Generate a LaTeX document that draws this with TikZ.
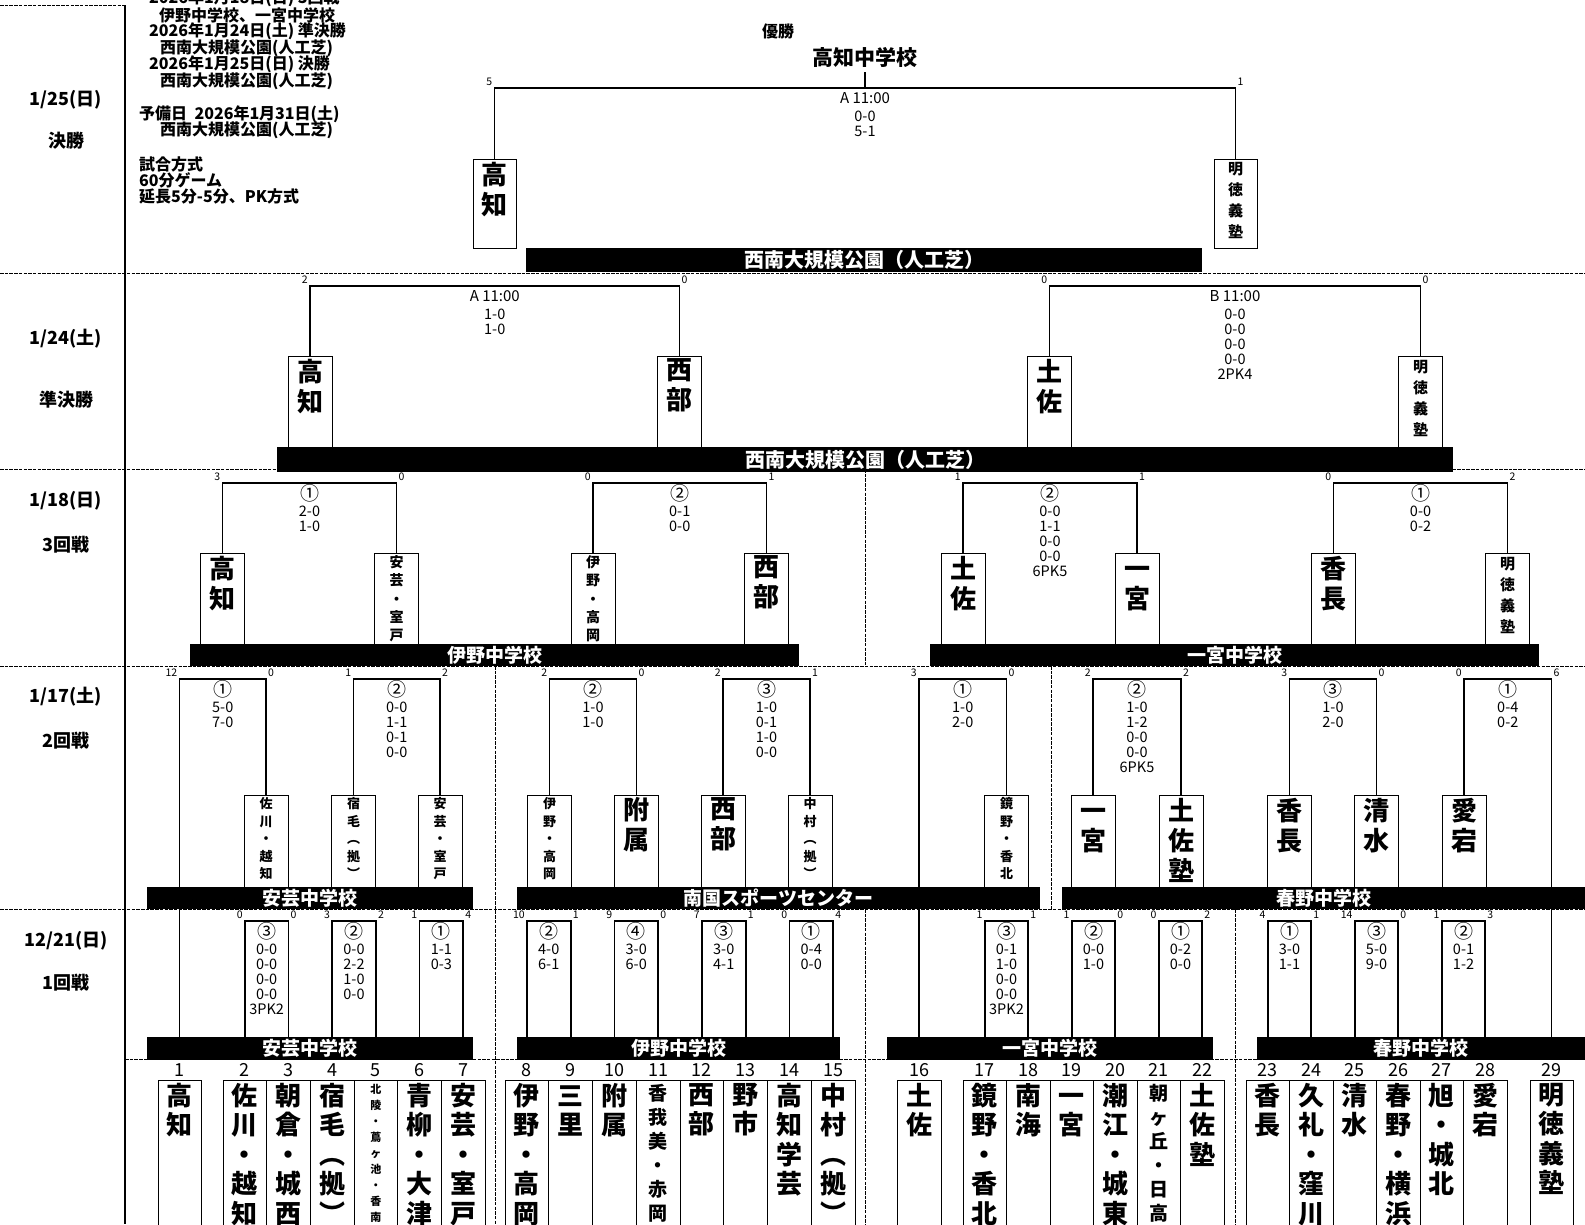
\documentclass[tikz,border=0pt]{standalone}
\usepackage{fontspec}
\setmainfont{Noto Sans CJK JP}
\newcommand\mlab[8]{%
  \node[crsc, anchor=south east] (#1l) at (#2-2,#4-2) {#5};
  \node[crsc, anchor=south west] (#1r) at (#3+2,#4-2) {#6};
  \node[hdtxt] (#1h) at ({(#2+#3)/2},#4+10) {#7};
  \node[sclist] (#1s) at ({(#2+#3)/2},#4+23) {#8};
}
\newcommand\cn[1]{{\fontsize{19}{19}\selectfont #1}}
\newcommand\vs{\vphantom{高}}
\begin{document}
\begin{tikzpicture}[x=1pt,y=-1pt,
 dsh/.style={line width=0.8pt, dash pattern=on 3.5pt off 1.2pt},
 brk/.style={line width=1.8pt},
 tbox/.style={draw, line width=0.8pt, fill=white, inner sep=0pt},
 blk/.style={fill=black, inner sep=0pt, text=white, font=\bfseries\fontsize{19}{19}\selectfont},
 vt/.style={anchor=north, inner sep=0pt, align=center},
 nmBig/.style={vt, font=\bfseries\fontsize{26}{30}\selectfont},
 nmMid/.style={vt, font=\bfseries\fontsize{15}{21}\selectfont},
 nmA/.style={vt, font=\bfseries\fontsize{14}{18.2}\selectfont},
 nmB/.style={vt, font=\bfseries\fontsize{13}{17.5}\selectfont},
 nmBot/.style={vt, font=\bfseries\fontsize{26}{29.5}\selectfont},
 nmBotM/.style={vt, font=\bfseries\fontsize{19}{24}\selectfont},
 nmBotS/.style={vt, font=\bfseries\fontsize{11}{16}\selectfont},
 crsc/.style={inner sep=0pt, font=\fontsize{10.5}{11}\selectfont},
 hdtxt/.style={inner sep=0pt, font=\fontsize{15}{15}\selectfont},
 sclist/.style={anchor=north, inner sep=0pt, align=center, font=\fontsize{14.5}{15}\selectfont},
 hdrtxt/.style={anchor=west, inner sep=0pt, font=\bfseries\fontsize{16}{16}\selectfont},
 lbl/.style={inner sep=0pt, font=\bfseries\fontsize{18}{18}\selectfont},
 numtxt/.style={inner sep=0pt, font=\fontsize{18}{18}\selectfont},
]
\useasboundingbox (0,0) rectangle (1585,1224);
\coordinate (yF) at (0,88);
\coordinate (yS) at (0,286);
\coordinate (y3) at (0,483);
\coordinate (y2) at (0,679);
\coordinate (y1) at (0,921);
\coordinate (yN) at (0,1070);

% separators
\draw[dsh] (0,5) -- (125,5);
\draw[dsh] (0,273) -- (1585,273);
\draw[dsh] (0,469) -- (1585,469);
\draw[dsh] (0,666) -- (1585,666);
\draw[dsh] (0,909) -- (1585,909);
\draw[dsh] (125,1059) -- (1585,1059);
\draw[dsh] (865,469) -- (865,666);
\draw[dsh] (495,666) -- (495,1224);
\draw[dsh] (1051,666) -- (1051,909);
\draw[dsh] (865,909) -- (865,1224);
\draw[dsh] (1235,909) -- (1235,1224);
\draw[line width=1.8pt] (125,5) -- (125,1224);

% left labels
\node[lbl] (d1) at (66,100) {1/25(日)};
\node[lbl] (r1) at (66,141) {決勝};
\node[lbl] (d2) at (66,339) {1/24(土)};
\node[lbl] (r2) at (66,400) {準決勝};
\node[lbl] (d3) at (66,501) {1/18(日)};
\node[lbl] (r3) at (66,545) {3回戦};
\node[lbl] (d4) at (66,697) {1/17(土)};
\node[lbl] (r4) at (66,741) {2回戦};
\node[lbl] (d5) at (66,941) {12/21(日)};
\node[lbl] (r5) at (66,983) {1回戦};

% header
\node[hdrtxt, anchor=base west] (h0) at (149,3) {2026年1月18日(日) 3回戦};
\node[hdrtxt] (h1) at (159,15) {伊野中学校、一宮中学校};
\node[hdrtxt] (h2) at (149,31) {2026年1月24日(土) 準決勝};
\node[hdrtxt] (h3) at (160,48) {西南大規模公園(人工芝)};
\node[hdrtxt] (h4) at (149,64) {2026年1月25日(日) 決勝};
\node[hdrtxt] (h5) at (160,81) {西南大規模公園(人工芝)};
\node[hdrtxt] (h6) at (139,114) {予備日\ \ 2026年1月31日(土)};
\node[hdrtxt] (h7) at (160,130) {西南大規模公園(人工芝)};
\node[hdrtxt] (h8) at (139,164) {試合方式};
\node[hdrtxt] (h9) at (139,180) {60分ゲーム};
\node[hdrtxt] (h10) at (139,196) {延長5分-5分、PK方式};

% champion
\node[inner sep=0pt, font=\bfseries\fontsize{16}{16}\selectfont] (yu) at (778,31) {優勝};
\node[inner sep=0pt, font=\bfseries\fontsize{21}{21}\selectfont] (champ) at (865,57) {高知中学校};

% ---------- boxes: final
\node[tbox, minimum width=43pt, minimum height=89pt] (fA) at (494.5,203.5) {};
\node[tbox, minimum width=43pt, minimum height=89pt] (fB) at (1235.5,203.5) {};
% semi
\foreach \n/\x in {s1/310, s2/679.5, s3/1049.5, s4/1420.5}
  {\node[tbox, minimum width=44pt, minimum height=91pt] (\n) at (\x,401.5) {};}
% third
\foreach \n/\x in {q1/222.5, q2/396.5, q3/593, q4/766.5, q5/963, q6/1137, q7/1333.5, q8/1507.5}
  {\node[tbox, minimum width=44pt, minimum height=91pt] (\n) at (\x,598.5) {};}
% second
\foreach \n/\x in {p2/266, p3/353.5, p4/440, p5/549.5, p6/636.5, p7/723, p8/810, p10/1006.5, p11/1093, p12/1181, p13/1289.5, p14/1376.5, p15/1464}
  {\node[tbox, minimum width=44pt, minimum height=92pt] (\n) at (\x,841) {};}
% bottom teams
\foreach \i/\x/\w in {1/179.5/43, 2/244.8/43.67, 3/288.5/43.67, 4/332.2/43.67, 5/375.8/43.67, 6/419.5/43.67, 7/463.2/43.67,
  8/526.9/43.75, 9/570.6/43.75, 10/614.4/43.75, 11/658.1/43.75, 12/701.9/43.75, 13/745.6/43.75, 14/789.4/43.75, 15/833.1/43.75,
  16/919/44, 17/984.75/43.5, 18/1028.25/43.5, 19/1071.75/43.5, 20/1115.25/43.5, 21/1158.75/43.5, 22/1202.25/43.5,
  23/1267.75/43.5, 24/1311.25/43.5, 25/1354.75/43.5, 26/1398.25/43.5, 27/1441.75/43.5, 28/1485.25/43.5, 29/1551.5/43}
  {\node[tbox, minimum width=\w pt, minimum height=150pt, anchor=north] (t\i) at (\x,1080) {};
   \node[numtxt] (k\i) at (t\i |- yN) {\i};}

% ---------- bars
\node[blk, minimum width=676pt, minimum height=24pt, font=\bfseries\fontsize{20}{20}\selectfont] (fbar) at (864,260) {西南大規模公園（人工芝）};
\node[blk, minimum width=1176pt, minimum height=25pt, font=\bfseries\fontsize{20}{20}\selectfont] (sbar) at (865,459.5) {西南大規模公園（人工芝）};
\node[blk, minimum width=609pt, minimum height=22pt] (r3a) at (494.5,655) {伊野中学校};
\node[blk, minimum width=609pt, minimum height=22pt] (r3b) at (1234.5,655) {一宮中学校};
\node[blk, minimum width=326pt, minimum height=22pt] (r2a) at (310,898) {安芸中学校};
\node[blk, minimum width=523pt, minimum height=22pt] (r2b) at (778.5,898) {南国スポーツセンター};
\node[blk, minimum width=523pt, minimum height=22pt] (r2c) at (1323.5,898) {春野中学校};
\node[blk, minimum width=326pt, minimum height=23pt] (r1a) at (310,1048.5) {安芸中学校};
\node[blk, minimum width=323pt, minimum height=23pt] (r1b) at (678.5,1048.5) {伊野中学校};
\node[blk, minimum width=326pt, minimum height=23pt] (r1c) at (1050,1048.5) {一宮中学校};
\node[blk, minimum width=328pt, minimum height=23pt] (r1d) at (1421,1048.5) {春野中学校};

% ---------- brackets
\draw[brk] ([yshift=-5pt]champ.south) -- (champ.south |- yF);
\draw[brk] (fA.north) |- (fB.north |- yF) -- (fB.north);
\draw[brk] (s1.north) |- (s2.north |- yS) -- (s2.north);
\draw[brk] (s3.north) |- (s4.north |- yS) -- (s4.north);
\draw[brk] (q1.north) |- (q2.north |- y3) -- (q2.north);
\draw[brk] (q3.north) |- (q4.north |- y3) -- (q4.north);
\draw[brk] (q5.north) |- (q6.north |- y3) -- (q6.north);
\draw[brk] (q7.north) |- (q8.north |- y3) -- (q8.north);
\draw[brk] (r2a.north -| t1) |- (p2.north |- y2) -- (p2.north);
\draw[brk] (p3.north) |- (p4.north |- y2) -- (p4.north);
\draw[brk] (p5.north) |- (p6.north |- y2) -- (p6.north);
\draw[brk] (p7.north) |- (p8.north |- y2) -- (p8.north);
\draw[brk] (r2b.north -| t16) |- (p10.north |- y2) -- (p10.north);
\draw[brk] (p11.north) |- (p12.north |- y2) -- (p12.north);
\draw[brk] (p13.north) |- (p14.north |- y2) -- (p14.north);
\draw[brk] (p15.north) |- (t29 |- y2) -- (r2c.north -| t29);
\draw[brk] (r2a.south -| t1) -- (r1a.north -| t1);
\draw[brk] (r2b.south -| t16) -- (r1c.north -| t16);
\draw[brk] (r2c.south -| t29) -- (r1d.north -| t29);
\foreach \a/\b/\bar in {2/3/r1a, 4/5/r1a, 6/7/r1a, 8/9/r1b, 10/11/r1b, 12/13/r1b, 14/15/r1b,
  17/18/r1c, 19/20/r1c, 21/22/r1c, 23/24/r1d, 25/26/r1d, 27/28/r1d}
  {\draw[brk] (\bar.north -| t\a) |- (t\b |- y1) -- (\bar.north -| t\b);}

% ---------- match labels
\mlab{mF}{494.5}{1235.5}{88}{5}{1}{A 11:00}{0-0\\5-1}
\mlab{mSa}{310}{679.5}{286}{2}{0}{A 11:00}{1-0\\1-0}
\mlab{mSb}{1049.5}{1420.5}{286}{0}{0}{B 11:00}{0-0\\0-0\\0-0\\0-0\\2PK4}
\mlab{m3a}{222.5}{396.5}{483}{3}{0}{\cn{①}}{2-0\\1-0}
\mlab{m3b}{593}{766.5}{483}{0}{1}{\cn{②}}{0-1\\0-0}
\mlab{m3c}{963}{1137}{483}{1}{1}{\cn{②}}{0-0\\1-1\\0-0\\0-0\\6PK5}
\mlab{m3d}{1333.5}{1507.5}{483}{0}{2}{\cn{①}}{0-0\\0-2}
\mlab{m2a}{179.5}{266}{679}{12}{0}{\cn{①}}{5-0\\7-0}
\mlab{m2b}{353.5}{440}{679}{1}{2}{\cn{②}}{0-0\\1-1\\0-1\\0-0}
\mlab{m2c}{549.5}{636.5}{679}{2}{0}{\cn{②}}{1-0\\1-0}
\mlab{m2d}{723}{810}{679}{2}{1}{\cn{③}}{1-0\\0-1\\1-0\\0-0}
\mlab{m2e}{919}{1006.5}{679}{3}{0}{\cn{①}}{1-0\\2-0}
\mlab{m2f}{1093}{1181}{679}{2}{2}{\cn{②}}{1-0\\1-2\\0-0\\0-0\\6PK5}
\mlab{m2g}{1289.5}{1376.5}{679}{3}{0}{\cn{③}}{1-0\\2-0}
\mlab{m2h}{1464}{1551.5}{679}{0}{6}{\cn{①}}{0-4\\0-2}
\mlab{m1a}{244.8}{288.5}{921}{0}{0}{\cn{③}}{0-0\\0-0\\0-0\\0-0\\3PK2}
\mlab{m1b}{332.2}{375.8}{921}{3}{2}{\cn{②}}{0-0\\2-2\\1-0\\0-0}
\mlab{m1c}{419.5}{463.2}{921}{1}{4}{\cn{①}}{1-1\\0-3}
\mlab{m1d}{526.9}{570.6}{921}{10}{1}{\cn{②}}{4-0\\6-1}
\mlab{m1e}{614.4}{658.1}{921}{9}{0}{\cn{④}}{3-0\\6-0}
\mlab{m1f}{701.9}{745.6}{921}{7}{1}{\cn{③}}{3-0\\4-1}
\mlab{m1g}{789.4}{833.1}{921}{0}{4}{\cn{①}}{0-4\\0-0}
\mlab{m1h}{984.75}{1028.25}{921}{1}{1}{\cn{③}}{0-1\\1-0\\0-0\\0-0\\3PK2}
\mlab{m1i}{1071.75}{1115.25}{921}{1}{0}{\cn{②}}{0-0\\1-0}
\mlab{m1j}{1158.75}{1202.25}{921}{0}{2}{\cn{①}}{0-2\\0-0}
\mlab{m1k}{1267.75}{1311.25}{921}{4}{1}{\cn{①}}{3-0\\1-1}
\mlab{m1l}{1354.75}{1398.25}{921}{14}{0}{\cn{③}}{5-0\\9-0}
\mlab{m1m}{1441.75}{1485.25}{921}{1}{3}{\cn{②}}{0-1\\1-2}

% ---------- team names in round boxes
\node[nmBig] (fAn) at ([yshift=-3pt]fA.north) {高\\知};
\node[nmMid] (fBn) at ([yshift=-3pt]fB.north) {明\\徳\\義\\塾};
\node[nmBig] (s1n) at ([yshift=-3pt]s1.north) {高\\知};
\node[nmBig] (s2n) at ([yshift=-3pt]s2.north) {西\\部};
\node[nmBig] (s3n) at ([yshift=-3pt]s3.north) {土\\佐};
\node[nmMid] (s4n) at ([yshift=-4pt]s4.north) {明\\徳\\義\\塾};
\node[nmBig] (q1n) at ([yshift=-3pt]q1.north) {高\\知};
\node[nmA] (q2n) at ([yshift=-3pt]q2.north) {安\\芸\\・\\室\\戸};
\node[nmA] (q3n) at ([yshift=-3pt]q3.north) {伊\\野\\・\\高\\岡};
\node[nmBig] (q4n) at ([yshift=-3pt]q4.north) {西\\部};
\node[nmBig] (q5n) at ([yshift=-3pt]q5.north) {土\\佐};
\node[nmBig] (q6n) at ([yshift=-3pt]q6.north) {\vs 一\\宮};
\node[nmBig] (q7n) at ([yshift=-3pt]q7.north) {香\\長};
\node[nmMid] (q8n) at ([yshift=-4pt]q8.north) {明\\徳\\義\\塾};
\node[nmB] (p2n) at ([yshift=-3pt]p2.north) {佐\\川\\・\\越\\知};
\node[nmB] (p3n) at ([yshift=-3pt]p3.north) {宿\\毛\\︵\\拠\\︶};
\node[nmB] (p4n) at ([yshift=-3pt]p4.north) {安\\芸\\・\\室\\戸};
\node[nmB] (p5n) at ([yshift=-3pt]p5.north) {伊\\野\\・\\高\\岡};
\node[nmBig] (p6n) at ([yshift=-3pt]p6.north) {附\\属};
\node[nmBig] (p7n) at ([yshift=-3pt]p7.north) {西\\部};
\node[nmB] (p8n) at ([yshift=-3pt]p8.north) {中\\村\\︵\\拠\\︶};
\node[nmB] (p10n) at ([yshift=-3pt]p10.north) {鏡\\野\\・\\香\\北};
\node[nmBig] (p11n) at ([yshift=-3pt]p11.north) {\vs 一\\宮};
\node[nmBig] (p12n) at ([yshift=-3pt]p12.north) {土\\佐\\塾};
\node[nmBig] (p13n) at ([yshift=-3pt]p13.north) {香\\長};
\node[nmBig] (p14n) at ([yshift=-3pt]p14.north) {清\\水};
\node[nmBig] (p15n) at ([yshift=-3pt]p15.north) {愛\\宕};

% ---------- team names bottom row
\node[nmBot] (n1) at ([yshift=-3pt]t1.north) {高\\知};
\node[nmBot] (n2) at ([yshift=-3pt]t2.north) {佐\\川\\・\\越\\知};
\node[nmBot] (n3) at ([yshift=-3pt]t3.north) {朝\\倉\\・\\城\\西};
\node[nmBot] (n4) at ([yshift=-3pt]t4.north) {宿\\毛\\︵\\拠\\︶};
\node[nmBotS] (n5) at ([yshift=-4pt]t5.north) {北\\陵\\・\\蔦\\ヶ\\池\\・\\香\\南};
\node[nmBot] (n6) at ([yshift=-3pt]t6.north) {青\\柳\\・\\大\\津};
\node[nmBot] (n7) at ([yshift=-3pt]t7.north) {安\\芸\\・\\室\\戸};
\node[nmBot] (n8) at ([yshift=-3pt]t8.north) {伊\\野\\・\\高\\岡};
\node[nmBot] (n9) at ([yshift=-3pt]t9.north) {\vs 三\\里};
\node[nmBot] (n10) at ([yshift=-3pt]t10.north) {附\\属};
\node[nmBotM] (n11) at ([yshift=-4pt]t11.north) {香\\我\\美\\・\\赤\\岡};
\node[nmBot] (n12) at ([yshift=-3pt]t12.north) {西\\部};
\node[nmBot] (n13) at ([yshift=-3pt]t13.north) {野\\市};
\node[nmBot] (n14) at ([yshift=-3pt]t14.north) {高\\知\\学\\芸};
\node[nmBot] (n15) at ([yshift=-3pt]t15.north) {中\\村\\︵\\拠\\︶};
\node[nmBot] (n16) at ([yshift=-3pt]t16.north) {土\\佐};
\node[nmBot] (n17) at ([yshift=-3pt]t17.north) {鏡\\野\\・\\香\\北};
\node[nmBot] (n18) at ([yshift=-3pt]t18.north) {南\\海};
\node[nmBot] (n19) at ([yshift=-3pt]t19.north) {\vs 一\\宮};
\node[nmBot] (n20) at ([yshift=-3pt]t20.north) {潮\\江\\・\\城\\東};
\node[nmBotM] (n21) at ([yshift=-4pt]t21.north) {朝\\ヶ\\丘\\・\\日\\高};
\node[nmBot] (n22) at ([yshift=-3pt]t22.north) {土\\佐\\塾};
\node[nmBot] (n23) at ([yshift=-3pt]t23.north) {香\\長};
\node[nmBot] (n24) at ([yshift=-3pt]t24.north) {久\\礼\\・\\窪\\川};
\node[nmBot] (n25) at ([yshift=-3pt]t25.north) {清\\水};
\node[nmBot] (n26) at ([yshift=-3pt]t26.north) {春\\野\\・\\横\\浜};
\node[nmBot] (n27) at ([yshift=-3pt]t27.north) {旭\\・\\城\\北};
\node[nmBot] (n28) at ([yshift=-3pt]t28.north) {愛\\宕};
\node[nmBot] (n29) at ([yshift=-3pt]t29.north) {明\\徳\\義\\塾};
\end{tikzpicture}
\end{document}
